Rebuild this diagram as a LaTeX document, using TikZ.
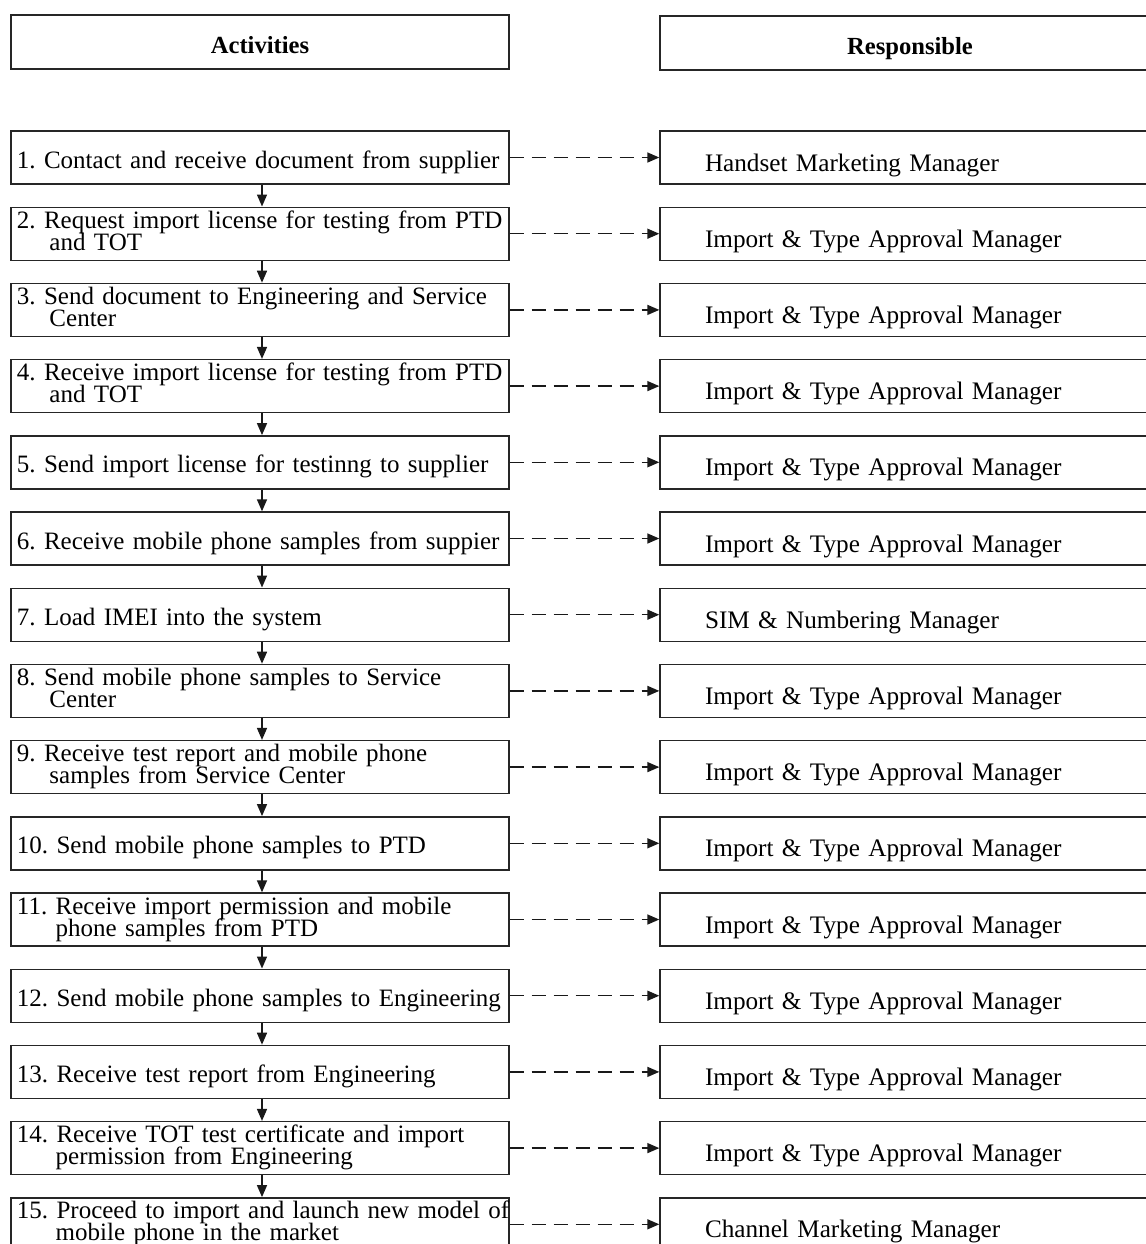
\documentclass[tikz,border=0pt]{standalone}
\usepackage{fontspec}
\setmainfont{Liberation Serif}
\usetikzlibrary{arrows.meta}
\newcommand{\rowline}[1]{\mbox{#1}}
\tikzset{
  boxline/.style={draw=black!85, line width=0.7pt, inner ysep=0pt, minimum height=26.5pt},
  txt/.style={font={\fontsize{12.5}{11}\selectfont\lineskiplimit=-20pt\frenchspacing}},
  rtxt/.style={font={\fontsize{12.6}{11}\selectfont\frenchspacing}},
  act/.style={boxline, txt, minimum width=249pt, text width=243pt, inner xsep=3pt, align=left},
  one/.style={act, text height=14pt, text depth=3.5pt},
  two/.style={act, text height=9pt, text depth=14.5pt},
  resp/.style={boxline, rtxt, minimum width=250pt, text width=205pt, inner xsep=22.5pt, align=left, text height=15pt, text depth=1.5pt},
  head/.style={boxline, minimum height=27pt, font=\bfseries\fontsize{12.3}{14}\selectfont, text height=13pt, text depth=1.5pt},
  flow/.style={-{Triangle[length=6pt,width=5pt]}, line width=0.75pt, draw=black!90},
  assign/.style={flow, dash pattern=on 7pt off 4pt},
}
\begin{document}
\begin{tikzpicture}[x=0.5pt, y=-0.5pt]
\useasboundingbox (0,0) rectangle (1146,1244);
\fill[white] (0,0) rectangle (1146,1244);
\begin{scope}
\clip (0,0) rectangle (1146,1244);
\node[head, minimum width=249pt] (h1) at (260,42) {Activities};
\node[head, minimum width=250pt] (h2) at (910,43) {Responsible};

\node[one] (a1)  at (260,157.5)  {\rowline{1. Contact and receive document from supplier}};
\node[two] (a2)  at (260,233.7)  {\rowline{2. Request import license for testing from PTD}\\\rowline{\hspace*{1.3em}and TOT}};
\node[two] (a3)  at (260,309.9)  {\rowline{3. Send document to Engineering and Service}\\\rowline{\hspace*{1.3em}Center}};
\node[two] (a4)  at (260,386.1)  {\rowline{4. Receive import license for testing from PTD}\\\rowline{\hspace*{1.3em}and TOT}};
\node[one] (a5)  at (260,462.3)  {\rowline{5. Send import license for testinng to supplier}};
\node[one] (a6)  at (260,538.5)  {\rowline{6. Receive mobile phone samples from suppier}};
\node[one] (a7)  at (260,614.7)  {\rowline{7. Load IMEI into the system}};
\node[two] (a8)  at (260,690.9)  {\rowline{8. Send mobile phone samples to Service}\\\rowline{\hspace*{1.3em}Center}};
\node[two] (a9)  at (260,767.1)  {\rowline{9. Receive test report and mobile phone}\\\rowline{\hspace*{1.3em}samples from Service Center}};
\node[one] (a10) at (260,843.3)  {\rowline{10. Send mobile phone samples to PTD}};
\node[two] (a11) at (260,919.5)  {\rowline{11. Receive import permission and mobile}\\\rowline{\hspace*{1.55em}phone samples from PTD}};
\node[one] (a12) at (260,995.7)  {\rowline{12. Send mobile phone samples to Engineering}};
\node[one] (a13) at (260,1071.9) {\rowline{13. Receive test report from Engineering}};
\node[two] (a14) at (260,1148.1) {\rowline{14. Receive TOT test certificate and import}\\\rowline{\hspace*{1.55em}permission from Engineering}};
\node[two] (a15) at (260,1224.3) {\rowline{15. Proceed to import and launch new model of}\\\rowline{\hspace*{1.55em}mobile phone in the market}};

\node[resp] (r1)  at (910,157.5)  {\rowline{Handset Marketing Manager}};
\node[resp] (r2)  at (910,233.7)  {\rowline{Import \& Type Approval Manager}};
\node[resp] (r3)  at (910,309.9)  {\rowline{Import \& Type Approval Manager}};
\node[resp] (r4)  at (910,386.1)  {\rowline{Import \& Type Approval Manager}};
\node[resp] (r5)  at (910,462.3)  {\rowline{Import \& Type Approval Manager}};
\node[resp] (r6)  at (910,538.5)  {\rowline{Import \& Type Approval Manager}};
\node[resp] (r7)  at (910,614.7)  {\rowline{SIM \& Numbering Manager}};
\node[resp] (r8)  at (910,690.9)  {\rowline{Import \& Type Approval Manager}};
\node[resp] (r9)  at (910,767.1)  {\rowline{Import \& Type Approval Manager}};
\node[resp] (r10) at (910,843.3)  {\rowline{Import \& Type Approval Manager}};
\node[resp] (r11) at (910,919.5)  {\rowline{Import \& Type Approval Manager}};
\node[resp] (r12) at (910,995.7)  {\rowline{Import \& Type Approval Manager}};
\node[resp] (r13) at (910,1071.9) {\rowline{Import \& Type Approval Manager}};
\node[resp] (r14) at (910,1148.1) {\rowline{Import \& Type Approval Manager}};
\node[resp] (r15) at (910,1224.3) {\rowline{Channel Marketing Manager}};

\foreach \i [evaluate=\i as \j using int(\i+1)] in {1,...,14}
  \draw[flow] ([xshift=1pt]a\i.south) -- ([xshift=1pt]a\j.north);
\foreach \i in {1,...,15}
  \draw[assign] (a\i.east) -- (r\i.west);
\end{scope}
\end{tikzpicture}
\end{document}
